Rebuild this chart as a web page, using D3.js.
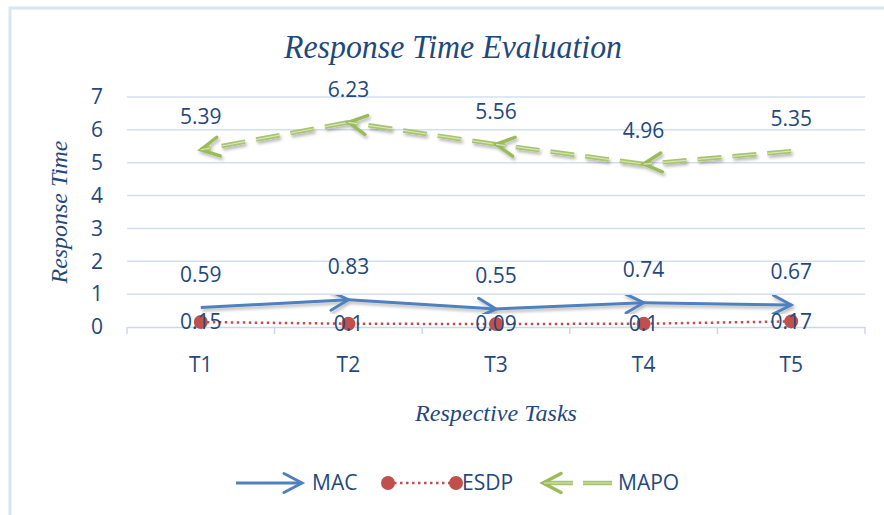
<!DOCTYPE html>
<html>
<head>
<meta charset="utf-8">
<script src="https://cdn.jsdelivr.net/npm/d3@7"></script>
<style>
  html, body { margin: 0; padding: 0; background: #fff; }
  svg { display: block; }
</style>
</head>
<body>
<svg id="chart" width="884" height="515"></svg>
<script>
const categories = ["T1", "T2", "T3", "T4", "T5"];
const macValues  = [0.59, 0.83, 0.55, 0.74, 0.67];
const esdpValues = [0.15, 0.1, 0.09, 0.1, 0.17];
const mapoValues = [5.39, 6.23, 5.56, 4.96, 5.35];
const yTicks = [0, 1, 2, 3, 4, 5, 6, 7];
const seriesNames = ["MAC", "ESDP", "MAPO"];

const txt = "#1F497D";
const blue = "#4F81BD", red = "#C0504D", green = "#9BBB59";
const labelFont = "'Open Sans', 'Noto Sans', sans-serif";
const serif = "'Liberation Serif', 'Times New Roman', serif";
const fs = "21px";

const svg = d3.select("#chart");
const defs = svg.append("defs");

const f = defs.append("filter").attr("id", "shadow").attr("x", "-20%").attr("y", "-50%").attr("width", "140%").attr("height", "200%");
f.append("feDropShadow").attr("dx", 1.5).attr("dy", 2.5).attr("stdDeviation", 1.8).attr("flood-color", "#000").attr("flood-opacity", 0.28);

function arrowMarker(id, color, w) {
  defs.append("marker").attr("id", id)
    .attr("markerUnits", "userSpaceOnUse")
    .attr("viewBox", "-22 -12 26 24")
    .attr("markerWidth", 26).attr("markerHeight", 24)
    .attr("refX", 0).attr("refY", 0)
    .attr("orient", "auto")
    .append("path")
    .attr("d", "M-18,-9.5 L0,0 L-18,9.5")
    .attr("fill", "none").attr("stroke", color).attr("stroke-width", w)
    .attr("stroke-linecap", "round").attr("stroke-linejoin", "miter");
}
arrowMarker("arrBlue", blue, 3);
arrowMarker("arrGreen", green, 3.5);

svg.append("path").attr("d", "M10,515 V8 H884").attr("fill", "none")
  .attr("stroke", "#dbe5f1").attr("stroke-width", 3);

const x = d3.scaleBand().domain(categories).range([127, 865]);
const y = d3.scaleLinear().domain([0, 7]).range([327, 97]);
const cx = c => x(c) + x.bandwidth() / 2;

svg.append("g").selectAll("line").data(yTicks.filter(d => d > 0)).join("line")
  .attr("x1", 127).attr("x2", 865)
  .attr("y1", d => y(d)).attr("y2", d => y(d))
  .attr("stroke", "#d3dff0").attr("stroke-width", 1.5);

const yAxis = d3.axisLeft(y).tickValues(yTicks).tickSize(0).tickPadding(0).tickFormat(d3.format("d"));
const yg = svg.append("g").attr("transform", "translate(103,0)").call(yAxis);
yg.select(".domain").remove();
yg.selectAll("text").attr("fill", txt).style("font-family", labelFont).style("font-size", fs);

const xAxis = d3.axisBottom(x).tickSize(0).tickPadding(0);
const xg = svg.append("g").attr("transform", "translate(0,327)").call(xAxis);
xg.select(".domain").attr("stroke", "#c9d8ec").attr("stroke-width", 1.5);
xg.selectAll("text").attr("fill", txt).attr("y", 38).attr("dy", "0.35em")
  .style("font-family", labelFont).style("font-size", fs);
const bounds = categories.map(c => x(c)).concat([x(categories[categories.length - 1]) + x.bandwidth()]);
svg.append("g").selectAll("line").data(bounds).join("line")
  .attr("x1", d => d).attr("x2", d => d).attr("y1", 327).attr("y2", 334)
  .attr("stroke", "#c9d8ec").attr("stroke-width", 1.5);

// MAPO
const mapoG = svg.append("g").attr("filter", "url(#shadow)");
for (let i = 0; i < categories.length - 1; i++) {
  const seg = [[cx(categories[i + 1]), y(mapoValues[i + 1])], [cx(categories[i]), y(mapoValues[i])]];
  mapoG.append("path").attr("d", d3.line()(seg)).attr("fill", "none")
    .attr("stroke", "#a8c46c").attr("stroke-width", 4.5).attr("stroke-dasharray", "24,11")
    .attr("marker-end", "url(#arrGreen)");
  mapoG.append("path").attr("d", d3.line()(seg)).attr("fill", "none")
    .attr("stroke", "#d6e4bc").attr("stroke-width", 1.2).attr("stroke-dasharray", "24,11");
}

// ESDP
const esdpG = svg.append("g");
esdpG.append("path")
  .attr("d", d3.line()(categories.map((c, i) => [cx(c), y(esdpValues[i])])))
  .attr("fill", "none").attr("stroke", red).attr("stroke-width", 2.5).attr("stroke-dasharray", "2.5,3.5");
esdpG.selectAll("circle").data(esdpValues).join("circle")
  .attr("cx", (d, i) => cx(categories[i])).attr("cy", d => y(d)).attr("r", 7).attr("fill", red);

// MAC
const macG = svg.append("g").attr("filter", "url(#shadow)");
for (let i = 0; i < categories.length - 1; i++) {
  const seg = [[cx(categories[i]), y(macValues[i])], [cx(categories[i + 1]), y(macValues[i + 1])]];
  macG.append("path").attr("d", d3.line()(seg)).attr("fill", "none")
    .attr("stroke", blue).attr("stroke-width", 3).attr("marker-end", "url(#arrBlue)");
}

function labels(vals, dyPx) {
  svg.append("g").selectAll("text").data(vals).join("text")
    .attr("x", (d, i) => cx(categories[i])).attr("y", d => y(d) + dyPx)
    .attr("dy", "0.35em").attr("text-anchor", "middle")
    .attr("fill", txt).style("font-family", labelFont).style("font-size", fs)
    .text(d => d);
}
labels(macValues, -33);
labels(mapoValues, -33);
labels(esdpValues, 0);

svg.append("text").attr("x", 453).attr("y", 58).attr("text-anchor", "middle")
  .attr("fill", txt).style("font-family", serif).style("font-style", "italic").style("font-size", "34px")
  .attr("textLength", 338).attr("lengthAdjust", "spacingAndGlyphs")
  .text("Response Time Evaluation");

svg.append("text").attr("transform", "translate(67,212) rotate(-90)").attr("text-anchor", "middle")
  .attr("fill", txt).style("font-family", serif).style("font-style", "italic").style("font-size", "23px")
  .attr("textLength", 143).attr("lengthAdjust", "spacingAndGlyphs")
  .text("Response Time");
svg.append("text").attr("x", 496).attr("y", 421).attr("text-anchor", "middle")
  .attr("fill", txt).style("font-family", serif).style("font-style", "italic").style("font-size", "23px")
  .attr("textLength", 162).attr("lengthAdjust", "spacingAndGlyphs")
  .text("Respective Tasks");

// legend
const ly = 483;
const leg = svg.append("g");
leg.append("path").attr("d", d3.line()([[236, ly], [302, ly]])).attr("stroke", blue).attr("stroke-width", 3)
  .attr("fill", "none").attr("marker-end", "url(#arrBlue)");
leg.append("path").attr("d", d3.line()([[388, ly], [456, ly]])).attr("stroke", red).attr("stroke-width", 2.5)
  .attr("stroke-dasharray", "2.5,3.5").attr("fill", "none");
leg.selectAll("circle").data([388, 456]).join("circle").attr("cx", d => d).attr("cy", ly).attr("r", 7).attr("fill", red);
leg.append("path").attr("d", d3.line()([[612, ly], [543, ly]])).attr("stroke", "#a8c46c").attr("stroke-width", 4.5)
  .attr("stroke-dasharray", "29,10").attr("fill", "none").attr("marker-end", "url(#arrGreen)");
leg.append("path").attr("d", d3.line()([[612, ly], [543, ly]])).attr("stroke", "#d6e4bc").attr("stroke-width", 1.2)
  .attr("stroke-dasharray", "29,10").attr("fill", "none");
leg.selectAll("text").data(seriesNames).join("text")
  .attr("x", (d, i) => [312, 462, 618][i]).attr("y", ly).attr("dy", "0.35em")
  .attr("fill", txt).style("font-family", labelFont).style("font-size", fs)
  .text(d => d);
</script>
</body>
</html>
